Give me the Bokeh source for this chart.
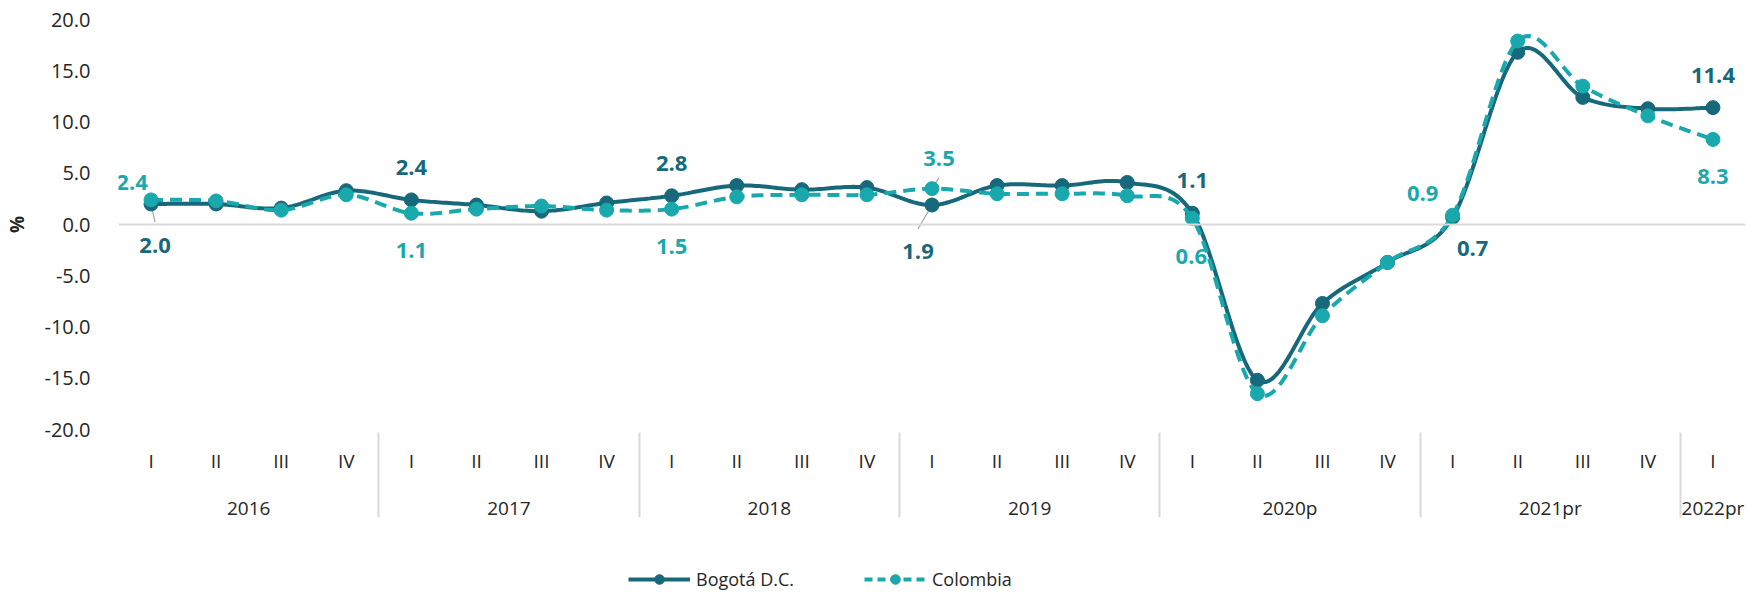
from bokeh.plotting import figure
from bokeh.layouts import column
from bokeh.models import (FactorRange, FixedTicker, Span, Legend, LegendItem,
                          PrintfTickFormatter)
from bokeh.core.properties import value
from bokeh.embed import file_html
from bokeh.resources import INLINE

# ---------------- data ----------------
years = ["2016", "2017", "2018", "2019", "2020p", "2021pr", "2022pr"]
quarters_per_year = [4, 4, 4, 4, 4, 4, 1]
quarter_names = ["I", "II", "III", "IV"]

bogota = [2.0, 2.0, 1.6, 3.3, 2.4, 1.9, 1.3, 2.1, 2.8, 3.8, 3.4, 3.6,
          1.9, 3.8, 3.8, 4.1, 1.1, -15.2, -7.7, -3.7, 0.7, 16.8, 12.4, 11.3, 11.4]
colombia = [2.4, 2.3, 1.4, 2.9, 1.1, 1.5, 1.8, 1.4, 1.5, 2.7, 2.9, 2.9,
            3.5, 3.0, 3.0, 2.8, 0.6, -16.5, -8.9, -3.7, 0.9, 17.9, 13.5, 10.6, 8.3]

y_ticks = [-20, -15, -10, -5, 0, 5, 10, 15, 20]
series_names = ["Bogotá D.C.", "Colombia"]

# ---------------- style ----------------
C_BOG = "#16687A"
C_COL = "#19A9AD"
TXT = "#262626"
FONT = "Open Sans"

factors = [(y, quarter_names[q]) for y, n in zip(years, quarters_per_year) for q in range(n)]
xs = [i + 0.5 for i in range(len(factors))]   # synthetic coordinates of the factors


def smooth(x, y, n=24):
    """Excel-like smoothed curve (cubic Bezier, Catmull-Rom control points)."""
    ox, oy = [], []
    m = len(x)
    for i in range(m - 1):
        x0, y0 = (x[i - 1], y[i - 1]) if i > 0 else (x[i], y[i])
        x1, y1 = x[i], y[i]
        x2, y2 = x[i + 1], y[i + 1]
        x3, y3 = (x[i + 2], y[i + 2]) if i + 2 < m else (x[i + 1], y[i + 1])
        c1x, c1y = x1 + (x2 - x0) / 6, y1 + (y2 - y0) / 6
        c2x, c2y = x2 - (x3 - x1) / 6, y2 - (y3 - y1) / 6
        for k in range(n):
            t = k / n
            a, b, c, d = (1 - t) ** 3, 3 * (1 - t) ** 2 * t, 3 * (1 - t) * t ** 2, t ** 3
            ox.append(a * x1 + b * c1x + c * c2x + d * x2)
            oy.append(a * y1 + b * c1y + c * c2y + d * y2)
    ox.append(x[-1])
    oy.append(y[-1])
    return ox, oy


W = 1746
H_MAIN, H_LEG = 563, 30
BL, BR, BT = 115, 1, 19
FRAME_H = 410
BB = H_MAIN - BT - FRAME_H

p = figure(width=W, height=H_MAIN,
           x_range=FactorRange(*factors, factor_padding=0, group_padding=0, range_padding=0),
           y_range=(-20, 20),
           output_backend="svg", toolbar_location=None,
           min_border_left=BL, min_border_right=BR, min_border_top=BT, min_border_bottom=BB)
p.outline_line_color = None
p.xgrid.visible = False
p.ygrid.visible = False
p.background_fill_color = "white"
p.border_fill_color = "white"

# zero line
p.add_layout(Span(location=0, dimension="width", line_color="#d9d9d9", line_width=2))

# y axis
ya = p.yaxis[0]
ya.ticker = FixedTicker(ticks=y_ticks)
ya.formatter = PrintfTickFormatter(format="%.1f")
ya.axis_line_color = None
ya.major_tick_line_color = None
ya.minor_tick_line_color = None
ya.major_label_text_font = FONT
ya.major_label_text_font_size = "20px"
ya.major_label_text_color = TXT
ya.major_label_standoff = 22
ya.axis_label = "%"
ya.axis_label_text_font = FONT
ya.axis_label_text_font_style = "bold"
ya.axis_label_text_font_size = "19px"
ya.axis_label_text_color = TXT
ya.axis_label_standoff = 12

# x axis
xa = p.xaxis[0]
xa.axis_line_color = None
xa.major_tick_line_color = None
xa.minor_tick_line_color = None
xa.major_tick_out = 0
xa.major_label_text_font = FONT
xa.major_label_text_font_size = "19px"
xa.major_label_text_color = TXT
xa.major_label_standoff = 18
xa.group_text_font = FONT
xa.group_text_font_size = "19px"
xa.group_text_font_style = "normal"
xa.group_text_color = TXT
xa.group_label_orientation = "horizontal"
for k, v in dict(separator_line_color="#d9d9d9", separator_line_width=2).items():
    try:
        setattr(xa, k, v)
    except Exception:
        pass

# series
bx, by = smooth(xs, bogota)
cx, cy = smooth(xs, colombia)

l_b = p.line(bx, by, line_color=C_BOG, line_width=4)
m_b = p.scatter(xs, bogota, size=14, fill_color=C_BOG, line_color=C_BOG)
l_c = p.line(cx, cy, line_color=C_COL, line_width=4, line_dash="12 7")
m_c = p.scatter(xs, colombia, size=14, fill_color=C_COL, line_color=C_COL)

# data labels: (series index, point index, dx px, dy px, leader end or None)
label_spec = [
    (1, 0, -19, -17, None),
    (0, 0, 4, 41, (4, 18)),
    (0, 4, 0, -32, None),
    (1, 4, 0, 37, None),
    (0, 8, 0, -32, None),
    (1, 8, 0, 37, None),
    (1, 12, 7, -30, (7, -11)),
    (0, 12, -14, 46, (-14, 24)),
    (0, 16, 0, -33, None),
    (1, 16, -1, 38, None),
    (1, 20, -30, -22, None),
    (0, 20, 20, 31, None),
    (0, 24, 0, -32, None),
    (1, 24, 0, 37, None),
]
series_vals = [bogota, colombia]
series_cols = [C_BOG, C_COL]

frame_w = W - BL - BR
px_x = frame_w / len(factors)
px_y = FRAME_H / (y_ticks[-1] - y_ticks[0])

lx0, ly0, lx1, ly1 = [], [], [], []
for s, i, dx, dy, lead in label_spec:
    if lead is not None:
        lx0.append(xs[i]); ly0.append(series_vals[s][i])
        lx1.append(xs[i] + lead[0] / px_x); ly1.append(series_vals[s][i] - lead[1] / px_y)
p.segment(lx0, ly0, lx1, ly1, line_color="#a6a6a6", line_width=1.2, level="underlay")

for s in (0, 1):
    sel = [t for t in label_spec if t[0] == s]
    p.text(x=[xs[t[1]] for t in sel], y=[series_vals[s][t[1]] for t in sel],
           text=[f"{series_vals[s][t[1]]:.1f}" for t in sel],
           x_offset=[t[2] for t in sel], y_offset=[t[3] for t in sel],
           text_align="center", text_baseline="middle",
           text_font=value(FONT), text_font_style="bold", text_font_size="22px",
           text_color=series_cols[s], level="underlay")

# ---------------- legend strip ----------------
lg = figure(width=W, height=H_LEG, x_range=(0, 1), y_range=(0, 1),
            output_backend="svg", toolbar_location=None,
            min_border_left=0, min_border_right=0, min_border_top=0, min_border_bottom=0)
lg.axis.visible = False
lg.xgrid.visible = False
lg.ygrid.visible = False
lg.outline_line_color = None
lg.background_fill_color = "white"
lg.border_fill_color = "white"

# legend-only renderers: one point placed outside the visible range
d_lb = lg.line([-5, -4], [-5, -5], line_color=C_BOG, line_width=4)
d_mb = lg.scatter([-5], [-5], size=14, fill_color=C_BOG, line_color=C_BOG)
d_lc = lg.line([-5, -4], [-5, -5], line_color=C_COL, line_width=4, line_dash="8 5")
d_mc = lg.scatter([-5], [-5], size=14, fill_color=C_COL, line_color=C_COL)

legend = Legend(items=[LegendItem(label=series_names[0], renderers=[d_lb, d_mb]),
                       LegendItem(label=series_names[1], renderers=[d_lc, d_mc])],
                orientation="horizontal", location=(510, 2),
                glyph_width=62, glyph_height=24, label_standoff=6, spacing=70,
                padding=0, margin=0, border_line_color=None, background_fill_alpha=0,
                label_text_font=FONT, label_text_font_size="18px", label_text_color=TXT)
lg.add_layout(legend)

open("out.html", "w").write(file_html(column(p, lg, spacing=0), INLINE))
